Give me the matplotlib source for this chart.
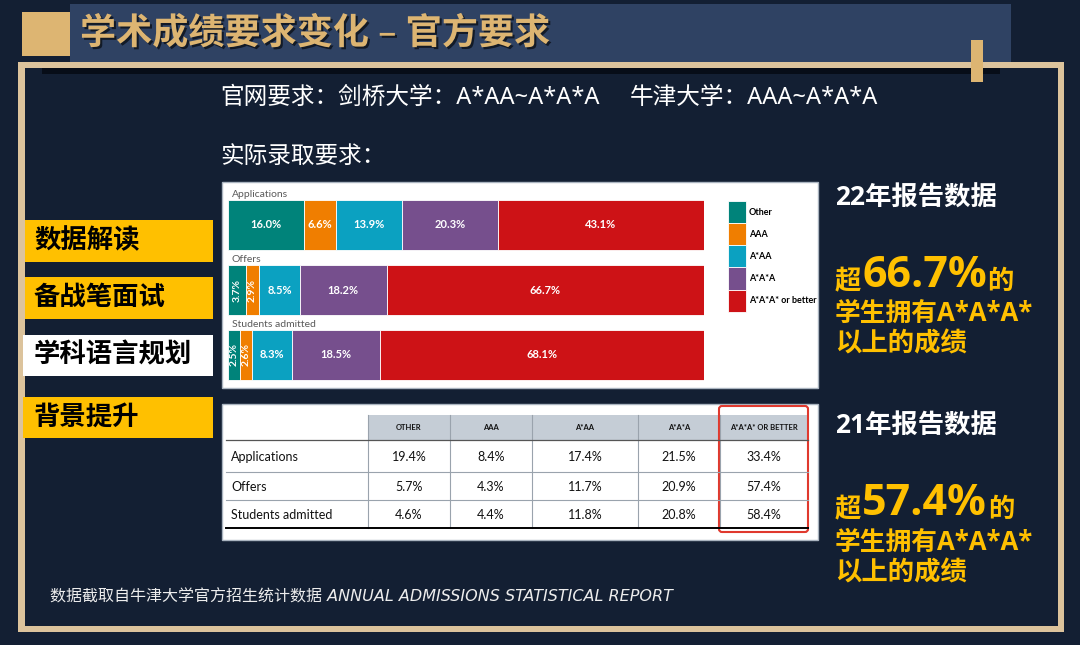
import numpy as np
import matplotlib.pyplot as plt
from matplotlib.patches import Rectangle, FancyBboxPatch
import matplotlib.patheffects as pe

plt.rcParams['font.family'] = ['Noto Sans', 'Noto Sans CJK SC', 'DejaVu Sans']
NARROW = ['Lato', 'DejaVu Sans']
BOLDLAT = ['Open Sans', 'Noto Sans CJK SC', 'DejaVu Sans']

### 22年报告数据 (stacked bars)
rows_22 = ['Applications', 'Offers', 'Students admitted']
grades = ['Other', 'AAA', 'A*AA', 'A*A*A', 'A*A*A* or better']
other_22 = [16.0, 3.7, 2.5]
aaa_22 = [6.6, 2.9, 2.6]
astar_aa_22 = [13.9, 8.5, 8.3]
astar2_a_22 = [20.3, 18.2, 18.5]
astar3_22 = [43.1, 66.7, 68.1]

### 21年报告数据 (table)
cols_21 = ['OTHER', 'AAA', 'A*AA', 'A*A*A', 'A*A*A* OR BETTER']
rows_21 = ['Applications', 'Offers', 'Students admitted']
applications_21 = [19.4, 8.4, 17.4, 21.5, 33.4]
offers_21 = [5.7, 4.3, 11.7, 20.9, 57.4]
admitted_21 = [4.6, 4.4, 11.8, 20.8, 58.4]

colors = ['#00837A', '#F07E00', '#0BA1C1', '#764F8D', '#CD1216']
bg_col = '#131F33'
beige = '#DCC39C'
gold = '#DDB572'
yellow = '#FFC000'

W, H = 1080, 645
fig = plt.figure(figsize=(W / 100, H / 100), dpi=100, facecolor=bg_col)

def px(x0, y0, x1, y1):
    return [x0 / W, 1 - y1 / H, (x1 - x0) / W, (y1 - y0) / H]

bg = fig.add_axes([0, 0, 1, 1])
bg.set_xlim(0, W)
bg.set_ylim(H, 0)
bg.axis('off')
bg.set_facecolor(bg_col)

def rect(x0, y0, x1, y1, **kw):
    bg.add_patch(Rectangle((x0, y0), x1 - x0, y1 - y0, **kw))

# header decorations
rect(70, 4, 1011, 62, color='#2F4263', lw=0)
rect(42, 68, 1000, 74, color='#070D18', lw=0)
rect(22, 12, 70, 56, color=gold, lw=0)
bg.text(80, 35, '学术成绩要求变化 – 官方要求', color=gold, fontsize=26, fontweight='bold',
        va='center', ha='left',
        path_effects=[pe.withSimplePatchShadow(offset=(1.5, -1.5), shadow_rgbFace='black', alpha=0.6)])

# frame
rect(18, 62, 1064, 68, color=beige, lw=0)
rect(18, 626, 1064, 632, color=beige, lw=0)
rect(18, 62, 25, 632, color=beige, lw=0)
rect(1058, 62, 1064, 632, color=beige, lw=0)
rect(971, 40, 983, 82, color=gold, lw=0, zorder=3)

# subtitle text
bg.text(220, 98, '官网要求：剑桥大学：A*AA~A*A*A', color='white', fontsize=17, va='center')
bg.text(630, 98, '牛津大学：AAA~A*A*A', color='white', fontsize=17, va='center')
bg.text(220, 157, '实际录取要求：', color='white', fontsize=17, va='center')

# left tabs
tabs = [('数据解读', 25, 220, 213, 262, yellow),
        ('备战笔面试', 25, 277, 213, 319, yellow),
        ('学科语言规划', 23, 335, 213, 376, 'white'),
        ('背景提升', 23, 397, 213, 438, yellow)]
for label, x0, y0, x1, y1, c in tabs:
    rect(x0, y0, x1, y1, color=c, lw=0)
    bg.text(34, (y0 + y1) / 2, label, color='black', fontsize=19, fontweight='black',
            va='center', ha='left')

# white panels
rect(222, 182, 818, 388, facecolor='white', edgecolor='#AAB4C0', lw=1)
rect(222, 404, 818, 540, facecolor='white', edgecolor='#AAB4C0', lw=1)

### stacked bar chart
ax = fig.add_axes(px(228, 192.5, 704, 387.5))
ax.set_xlim(0, 100)
ax.set_ylim(2.5, -0.5)
ax.axis('off')
series = [other_22, aaa_22, astar_aa_22, astar2_a_22, astar3_22]
ypos = np.arange(len(rows_22))
left = np.zeros(len(rows_22))
handles = []
for vals, col, name in zip(series, colors, grades):
    vals = np.array(vals)
    b = ax.barh(ypos, vals, left=left, height=0.78, color=col, edgecolor='white', lw=0.6, label=name)
    handles.append(b)
    for i, v in enumerate(vals):
        cx = left[i] + v / 2
        rot = 90 if v < 5 else 0
        ax.text(cx, ypos[i], f'{v:.1f}%', color='white', fontsize=8 if rot == 0 else 7.5,
                family=NARROW, fontweight='bold', rotation=rot, ha='center', va='center')
    left += vals
for i, name in enumerate(rows_22):
    ax.text(0.8, ypos[i] - 0.40, name, color='#5A5A5A', fontsize=7.5, family=NARROW,
            ha='left', va='bottom')

leg = ax.legend(handles=handles, loc='upper left', bbox_to_anchor=(728 / W, 1 - 201 / H),
                bbox_transform=fig.transFigure, frameon=False,
                prop={'family': NARROW, 'size': 6.5, 'weight': 'bold'}, handlelength=2.0,
                handleheight=3.4, handletextpad=0.3, labelspacing=0.0, borderpad=0,
                borderaxespad=0)

### 21年 table
col_edges = [368, 450, 532, 638, 720, 808]
row_edges = [440, 472, 500, 528]
rect(col_edges[0], 415, col_edges[-1], 440, color='#C5CDD6', lw=0)
for x in col_edges[:-1]:
    bg.plot([x, x], [415, 528], color='#9AA3AD', lw=0.8)
bg.plot([226, 808], [440, 440], color='#555555', lw=0.9)
for y in row_edges[1:-1]:
    bg.plot([226, 808], [y, y], color='#9AA3AD', lw=0.8)
bg.plot([226, 808], [528, 528], color='black', lw=1.4)
for j, c in enumerate(cols_21):
    bg.text((col_edges[j] + col_edges[j + 1]) / 2, 428, c, fontsize=5.5, fontweight='bold',
            family=NARROW, ha='center', va='center', color='#111111')
table_vals = [applications_21, offers_21, admitted_21]
for i, (rname, vals) in enumerate(zip(rows_21, table_vals)):
    yc = (row_edges[i] + row_edges[i + 1]) / 2 + 1
    bg.text(231, yc, rname, fontsize=9, family=NARROW, ha='left', va='center', color='#111111')
    for j, v in enumerate(vals):
        bg.text((col_edges[j] + col_edges[j + 1]) / 2, yc, f'{v:.1f}%', fontsize=9,
                family=NARROW, ha='center', va='center', color='#111111')
bg.add_patch(FancyBboxPatch((719, 406), 89, 126, boxstyle='round,pad=0,rounding_size=3',
                            facecolor='none', edgecolor='#E0392E', lw=1.5))

### right-hand notes
def note(y_head, y_big, y2, y3, head, big):
    bg.text(835, y_head, head, color='white', fontsize=19, fontweight='bold', va='center',
            family=BOLDLAT)
    t1 = bg.text(835, y_big, '超', color=yellow, fontsize=19, fontweight='bold', va='baseline')
    t2 = bg.annotate(big, xy=(1, 0), xycoords=t1, xytext=(0.5, -1), textcoords='offset points',
                     color=yellow, fontsize=31, fontweight='bold', va='bottom', family=BOLDLAT)
    bg.annotate('的', xy=(1, 0), xycoords=t2, xytext=(0.5, 1), textcoords='offset points',
                color=yellow, fontsize=19, fontweight='bold', va='bottom')
    bg.text(835, y2, '学生拥有A*A*A*', color=yellow, fontsize=18.5, fontweight='bold', va='center',
            family=BOLDLAT)
    bg.text(835, y3, '以上的成绩', color=yellow, fontsize=19, fontweight='bold', va='center')

note(198, 289, 313, 344, '22年报告数据', f'{astar3_22[1]:.1f}%')
note(426, 517, 542, 573, '21年报告数据', f'{offers_21[4]:.1f}%')

# footer
bg.text(50, 597, '数据截取自牛津大学官方招生统计数据 ANNUAL ADMISSIONS STATISTICAL REPORT',
        color='#EDEDED', fontsize=11.5, fontstyle='italic', va='center',
        family=['DejaVu Sans', 'Noto Sans CJK SC'])

fig.savefig('out.png', dpi=100, facecolor=bg_col)
